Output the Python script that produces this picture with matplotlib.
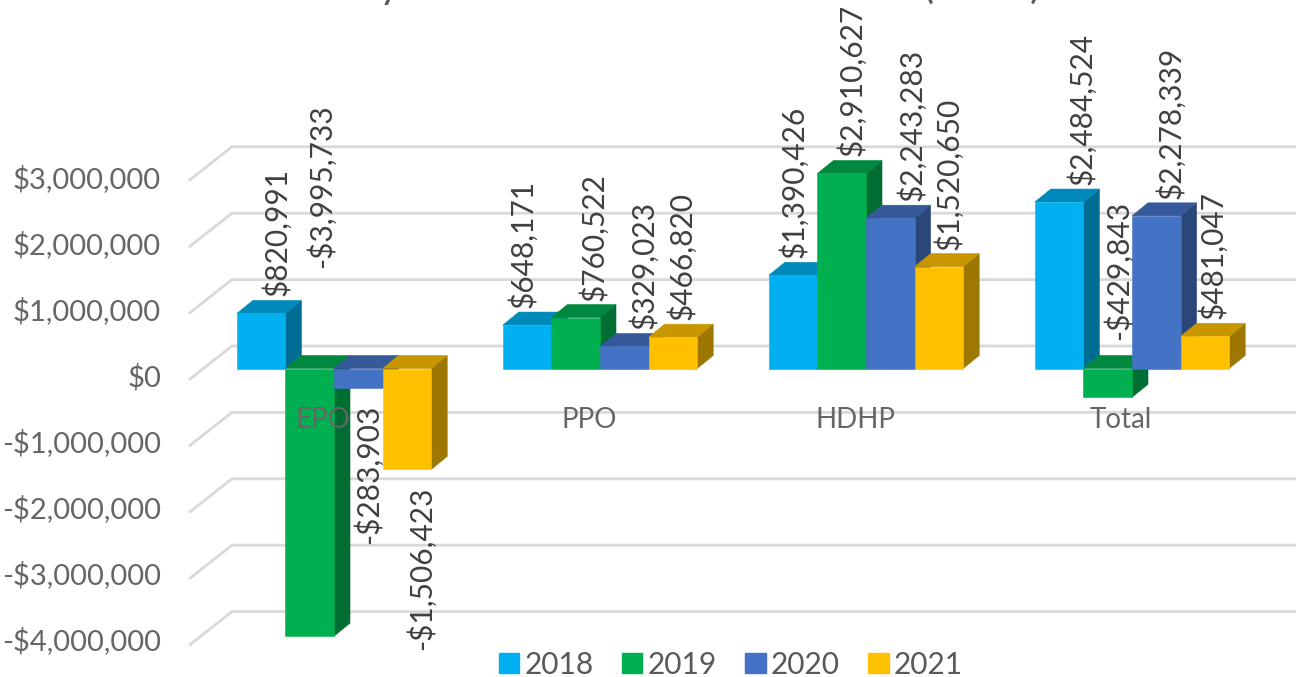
import matplotlib
matplotlib.use("Agg")
import matplotlib.pyplot as plt
from matplotlib.patches import Patch
from matplotlib.colors import to_rgb

plt.rcParams['font.family'] = ['Lato', 'DejaVu Sans']

categories = ["EPO", "PPO", "HDHP", "Total"]
years = ["2018", "2019", "2020", "2021"]
v2018 = [820991, 648171, 1390426, 2484524]
v2019 = [-3995733, 760522, 2910627, -429843]
v2020 = [-283903, 329023, 2243283, 2278339]
v2021 = [-1506423, 466820, 1520650, 481047]
series = [v2018, v2019, v2020, v2021]
colors = ["#00B0F0", "#00B050", "#4472C4", "#FFC000"]
y_ticks = [3000000, 2000000, 1000000, 0, -1000000, -2000000, -3000000, -4000000]

W, H = 1296, 677
PX_PER_CAT = 266.0
PX_PER_M = 67.0
WALL_PX_PER_M = 66.4
TICK_PX_PER_M = 66.0
ZERO_PX_Y = 368.5
GROUP0_PX_X = 334.0
BAR_W = 48.6 / PX_PER_CAT

def dx(px):
    return px / PX_PER_CAT

def dy(px):
    return px / PX_PER_M * 1e6

def money(v):
    return ("-$" if v < 0 else "$") + f"{abs(v):,}"

def shade(c, f):
    return tuple(x * f for x in to_rgb(c))

fig = plt.figure(figsize=(W / 100, H / 100), dpi=100, facecolor="white")
ax = fig.add_axes([0, 0, 1, 1])
ax.set_xlim(-GROUP0_PX_X / PX_PER_CAT, (W - GROUP0_PX_X) / PX_PER_CAT)
ax.set_ylim(dy(ZERO_PX_Y - H), dy(ZERO_PX_Y))
ax.axis("off")

# walls: back gridlines + side-wall diagonals
GRID = "#D9D9D9"
wall = WALL_PX_PER_M / PX_PER_M
tick_scale = TICK_PX_PER_M / PX_PER_M
back_dy = dy(22.5)
front_dy = dy(-10.5)
left_front = dx(190 - GROUP0_PX_X)
left_back = dx(232 - GROUP0_PX_X)
right = (W - GROUP0_PX_X) / PX_PER_CAT
tick_zero = dy(ZERO_PX_Y - 377.5)
for t in y_ticks:
    ax.plot([left_front, left_back, right],
            [t * wall + front_dy, t * wall + back_dy, t * wall + back_dy],
            color=GRID, lw=2.0, zorder=1, solid_joinstyle="miter")
    ax.text(dx(161 - GROUP0_PX_X), t * tick_scale + tick_zero, money(t), ha="right", va="center",
            fontsize=21, color="#666666", zorder=10)

# 3-D bars
DEPTH_X = dx(16)
DEPTH_Y = dy(13)
for si, (vals, col) in enumerate(zip(series, colors)):
    for ci, v in enumerate(vals):
        x0 = ci + (si - 2) * BAR_W
        x1 = x0 + BAR_W
        lo, hi = min(v, 0), max(v, 0)
        z = 3 + si * 0.1 + ci
        ax.fill([x1, x1 + DEPTH_X, x1 + DEPTH_X, x1], [lo, lo + DEPTH_Y, hi + DEPTH_Y, hi],
                color=shade(col, 0.62), lw=0.4, zorder=z)
        ax.fill([x0, x1, x1 + DEPTH_X, x0 + DEPTH_X], [hi, hi, hi + DEPTH_Y, hi + DEPTH_Y],
                color=shade(col, 0.78), lw=0.4, zorder=z)
        ax.fill([x0, x1, x1, x0], [lo, lo, hi, hi], color=col, lw=0.4, zorder=z)

# data labels: pixel nudge from the bar's value point
label_nudge_x = [
    [15, -5, 0, 22],
    [11, 18, 10, 10],
    [10, 19, 21, 14],
    [14, 9, 10, 8],
]
for si, vals in enumerate(series):
    for ci, v in enumerate(vals):
        cx = ci + (si - 1.5) * BAR_W
        if v >= 0:
            off, va = 17, "bottom"
        else:
            off, va = -17, "top"
        if (si, ci) == (1, 0):
            off, va = 368, "bottom"
        if (si, ci) == (1, 3):
            off, va = 57, "bottom"
        ax.annotate(money(v), xy=(cx, v), xytext=(label_nudge_x[si][ci], off),
                    textcoords="offset pixels", rotation=90, ha="center", va=va,
                    fontsize=21.5, color="#404040", zorder=20)

# category labels
for ci, c in enumerate(categories):
    ax.text(ci + dx(-11), dy(-51), c, ha="center", va="center", fontsize=20,
            color="#666666", zorder=21)

# visible lower edge of the cropped title
title_fragments = [("y", 389), ("(", 928), (")", 1035)]
for g, px in title_fragments:
    ax.text(dx(px - GROUP0_PX_X), dy(ZERO_PX_Y + 2), g, ha="center", va="baseline",
            fontsize=30, color="#595959", clip_on=True, zorder=21)

# legend
handles = [Patch(facecolor=c, edgecolor=c, label=y) for c, y in zip(colors, years)]
ax.legend(handles=handles, loc="center", bbox_to_anchor=(731 / W, 1 - 664.5 / H), ncol=4,
          frameon=False, fontsize=21.5, labelcolor="#595959", handlelength=0.68,
          handleheight=0.68, handletextpad=0.18, columnspacing=0.95, borderpad=0)

fig.savefig("out.png", dpi=100, facecolor="white")
